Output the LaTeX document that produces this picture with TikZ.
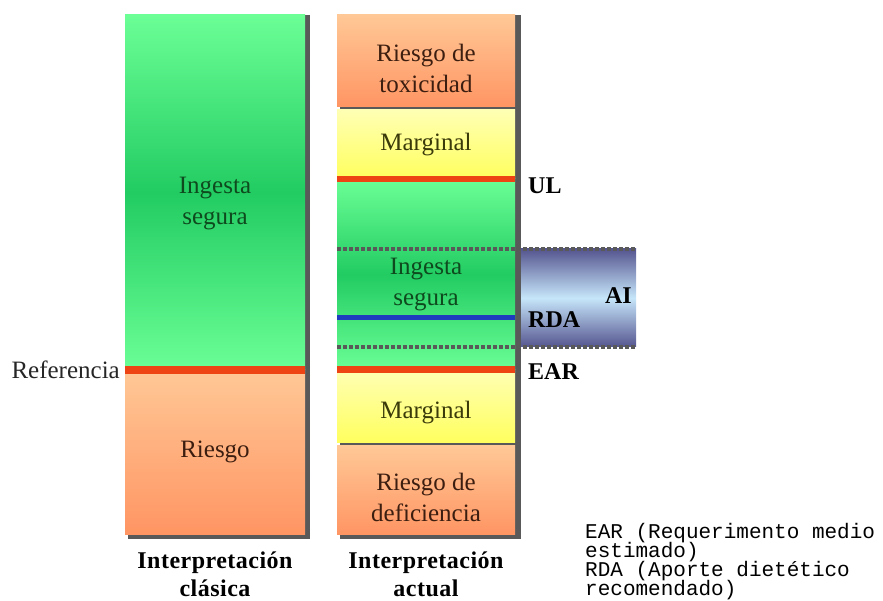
\documentclass[tikz,border=0pt]{standalone}
\usepackage{fontspec}
\setmainfont{Liberation Serif}
\setmonofont{Liberation Mono}
\usepackage{tikz}
\usetikzlibrary{positioning, backgrounds}
\definecolor{safelight}{HTML}{6BFF96}
\definecolor{safedark}{HTML}{22CC62}
\definecolor{risklight}{HTML}{FFC896}
\definecolor{riskdark}{HTML}{FF9563}
\definecolor{marglight}{HTML}{FFFFB4}
\definecolor{margdark}{HTML}{FFFF5E}
\definecolor{aidark}{HTML}{55558F}
\definecolor{ailight}{HTML}{C6E6FA}
\definecolor{limitred}{HTML}{EE4414}
\definecolor{rdablue}{HTML}{1E3CBE}
\definecolor{shadowgray}{HTML}{595959}
\definecolor{safetext}{HTML}{0E4A1E}
\definecolor{risktext}{HTML}{3C1E10}
\definecolor{margtext}{HTML}{3A3A0A}
\newcommand\notesfont{\ttfamily\fontsize{21}{19}\selectfont\lineskiplimit=-20pt\relax}

\begin{document}
\begin{tikzpicture}[
        x=1pt, y=1pt,
        band/.style={rectangle, inner sep=0pt, outer sep=0pt, anchor=south west},
        safe/.style={band, top color=safelight, bottom color=safelight, middle color=safedark},
        risk/.style={band, top color=risklight, bottom color=riskdark},
        marg/.style={band, top color=marglight, bottom color=margdark},
        bandtext/.style={align=center, inner sep=0pt, font=\fontsize{25}{31}\selectfont},
        sidelabel/.style={inner sep=0pt, font=\fontsize{24}{28}\selectfont\bfseries},
        caption/.style={align=center, inner sep=0pt, font=\fontsize{24}{28}\selectfont\bfseries\addfontfeature{LetterSpace=2}},
        limit/.style={line width=7pt, draw=limitred},
        dotline/.style={line width=4pt, draw=shadowgray, dash pattern=on 4pt off 2pt}
    ]
        \useasboundingbox (0,0) rectangle (883,601);

        % Classic column
        \node[safe, minimum width=180pt, minimum height=355pt] (leftsafe) at (125,231) {};
        \node[risk, minimum width=180pt, minimum height=165pt] (leftrisk) at (125,66) {};

        % Current column
        \node[risk, minimum width=178pt, minimum height=92pt] (tox) at (337,494) {};
        \node[marg, minimum width=178pt, minimum height=69pt] (margtop) at (337,422) {};
        \node[safe, minimum width=178pt, minimum height=191pt] (rightsafe) at (337,231) {};
        \node[marg, minimum width=178pt, minimum height=73pt] (margbot) at (337,158) {};
        \node[risk, minimum width=178pt, minimum height=89pt] (defic) at (337,66) {};
        \node[band, minimum width=115pt, minimum height=98pt, top color=aidark, bottom color=aidark, middle color=ailight] (ai) at (521,254) {};

        % Shadows
        \begin{scope}[on background layer]
            \fill[shadowgray] ([xshift=3pt, yshift=-4pt]leftrisk.south west) rectangle ([xshift=5pt]leftsafe.north east);
            \fill[shadowgray] ([xshift=3pt, yshift=-4pt]defic.south west) rectangle ([xshift=6pt]tox.north east);
        \end{scope}

        % Limits
        \draw[limit, line width=8pt] (leftsafe.south west) -- (leftsafe.south east);
        \draw[limit, line width=6pt] (margtop.south west) -- (margtop.south east);
        \draw[limit] (rightsafe.south west) -- (rightsafe.south east);
        \draw[line width=5pt, draw=rdablue] ([yshift=52pt]rightsafe.south west) -- ([yshift=52pt]rightsafe.south east);
        \draw[dotline] (ai.north -| rightsafe.west) -- (ai.north east);
        \draw[dotline] (ai.south -| rightsafe.west) -- (ai.south east);

        % Texts
        \node[bandtext, text=safetext] (leftsafetext) at (215,397) {Ingesta\\segura};
        \node[bandtext, text=risktext] (leftrisktext) at (215,149) {Riesgo};
        \node[bandtext, text=black!85, left=5pt of leftsafe.south west] (ref) {Referencia};
        \node[bandtext, text=risktext] (toxtext) at (426,533) {Riesgo de\\toxicidad};
        \node[bandtext, text=margtext] (margtoptext) at (426,456) {Marginal};
        \node[bandtext, text=safetext] (rightsafetext) at (426,316) {Ingesta\\segura};
        \node[bandtext, text=margtext] (margbottext) at (426,188) {Marginal};
        \node[bandtext, text=risktext] (defictext) at (426,104) {Riesgo de\\deficiencia};

        \node[sidelabel, right=13pt of margtop.south east, yshift=-7pt] (ul) {UL};
        \node[sidelabel, right=13pt of rightsafe.south east, yshift=-2pt] (ear) {EAR};
        \node[sidelabel, right=13pt of rightsafe.south east, yshift=50pt] (rda) {RDA};
        \node[sidelabel, left=4pt of ai.east, yshift=2pt] (ailabel) {AI};

        \node[caption, below=17pt of leftrisk.south] (clasica) {Interpretación\\clásica};
        \node[caption, below=17pt of defic.south] (actual) {Interpretación\\actual};

        \node[anchor=north west, align=left, inner sep=0pt, font=\notesfont] (notes) at (585,78)
            {EAR (Requerimento medio\\estimado)\\RDA (Aporte dietético\\recomendado)};
    \end{tikzpicture}
\end{document}
